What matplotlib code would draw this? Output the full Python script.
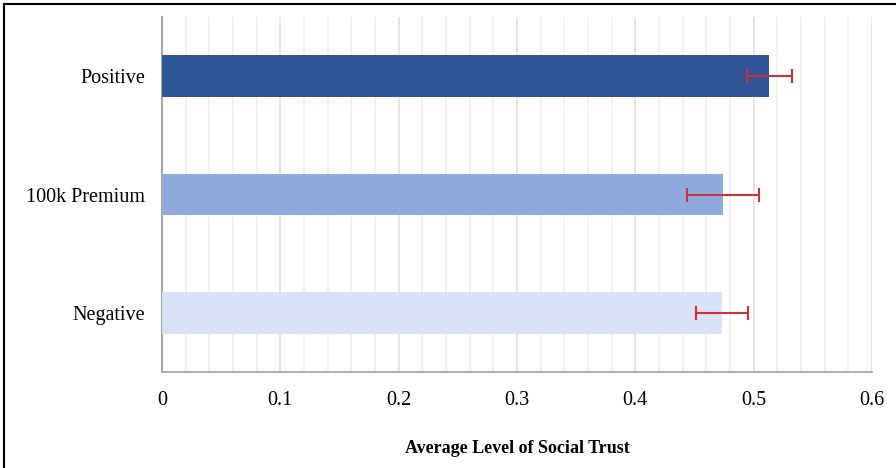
import matplotlib.pyplot as plt
from matplotlib.patches import Rectangle
from matplotlib.ticker import MultipleLocator

# donnees
categories = ['Negative', '100k Premium', 'Positive']
moyennes = [0.473, 0.474, 0.513]
erreurs = [0.022, 0.0305, 0.019]
couleurs = ['#dae3f3', '#8faadc', '#2f5597']
xticks = [0, 0.1, 0.2, 0.3, 0.4, 0.5, 0.6]
xtick_labels = ['0', '0.1', '0.2', '0.3', '0.4', '0.5', '0.6']

plt.rcParams['font.family'] = ['Liberation Serif', 'DejaVu Serif']

fig = plt.figure(figsize=(8.96, 4.68), dpi=100)
ax = fig.add_axes([162 / 896, 1 - 372 / 468, 710 / 896, 355 / 468])

ax.barh(range(len(categories)), moyennes, height=0.35, color=couleurs, zorder=3)
ax.errorbar(moyennes, range(len(categories)), xerr=erreurs, fmt='none',
            ecolor='#c8323a', elinewidth=1.5, capsize=5, capthick=1.5, zorder=4)

ax.set_xlim(0, 0.6)
ax.set_ylim(-0.5, 2.5)
ax.set_yticks(range(len(categories)))
ax.set_yticklabels(categories, fontsize=14.5)
ax.set_xticks(xticks)
ax.set_xticklabels(xtick_labels, fontsize=14.5)
ax.xaxis.set_minor_locator(MultipleLocator(0.02))
ax.tick_params(axis='both', which='both', length=0)
ax.tick_params(axis='x', pad=14)
ax.tick_params(axis='y', pad=12)

ax.grid(True, axis='x', which='major', color='#e2e2e2', linewidth=1.3, zorder=0)
ax.grid(True, axis='x', which='minor', color='#f0f0f0', linewidth=1.2, zorder=0)

for s in ['top', 'right']:
    ax.spines[s].set_visible(False)
ax.spines['left'].set_color('#a6a6a6')
ax.spines['left'].set_linewidth(1.5)
ax.spines['bottom'].set_color('#a6a6a6')
ax.spines['bottom'].set_linewidth(1.3)

ax.set_xlabel('Average Level of Social Trust', fontsize=13, fontweight='bold', labelpad=21)

# cadre autour de la figure (seulement haut et gauche visibles)
fig.add_artist(Rectangle((4 / 896, -0.1), 1.2, 1.1 - 4 / 468, transform=fig.transFigure,
                         fill=False, edgecolor='black', linewidth=1.5))

plt.savefig('out.png', dpi=100)
